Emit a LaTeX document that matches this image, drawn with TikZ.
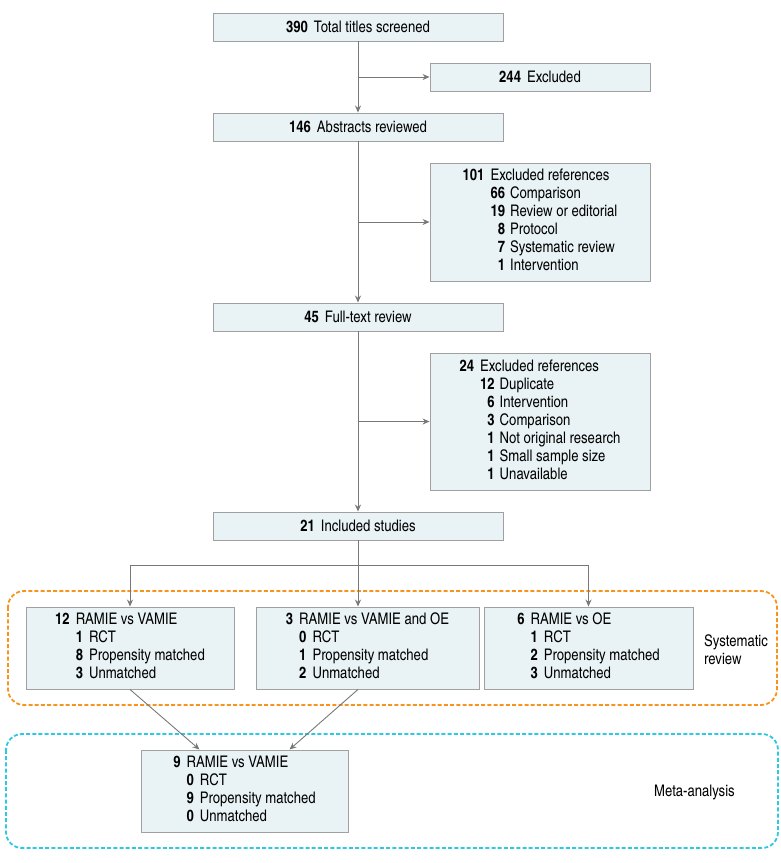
\documentclass[tikz,border=0pt]{standalone}
\usepackage{fontspec}
\setmainfont{texgyreheroscn-regular.otf}[BoldFont=texgyreheroscn-bold.otf]
\usetikzlibrary{arrows.meta}
\definecolor{boxfill}{RGB}{233,243,245}
\definecolor{boxline}{RGB}{160,160,160}
\definecolor{arrline}{RGB}{120,120,120}
\definecolor{sysorange}{RGB}{247,148,30}
\definecolor{metacyan}{RGB}{45,200,225}
\newcommand{\nb}[1]{\textbf{#1}}
\newcommand{\hd}[1]{\multicolumn{2}{@{}l@{}}{#1}}
\tikzset{
  box/.style={draw=boxline, fill=boxfill, line width=0.9pt, inner sep=0pt, align=center,
    font=\fontsize{16}{18}\selectfont},
  arr/.style={draw=arrline, line width=0.9pt, -{Stealth[length=7pt,width=6pt]}},
  plain/.style={draw=arrline, line width=0.9pt},
  frame/.style={line width=1.8pt, dash pattern=on 4pt off 2.2pt, rounded corners=16pt},
  lbl/.style={font=\fontsize{16}{18}\selectfont, align=left, anchor=west, inner sep=0pt}
}
\begin{document}
\begin{tikzpicture}[x=1pt,y=-1pt]
\useasboundingbox (0,0) rectangle (780,863);
% group frames
\draw[frame, draw=sysorange] (8,591) rectangle (777,705);
\draw[frame, draw=metacyan] (6,734) rectangle (778,848);
% boxes
\node[box, minimum width=290, minimum height=28] (b1) at (358,27) {\nb{390}\hspace{6pt}Total titles screened};
\node[box, minimum width=220, minimum height=28] (b244) at (540,77) {\nb{244}\hspace{6pt}Excluded};
\node[box, minimum width=290, minimum height=28] (b146) at (358,127) {\nb{146}\hspace{6pt}Abstracts reviewed};
\node[box, minimum width=220, minimum height=118] (b101) at (540,222) {%
\begin{tabular}{@{}r@{\hspace{6pt}}r@{\hspace{5pt}}l@{}}
\nb{101} & \hd{Excluded references}\\
 & \nb{66} & Comparison\\
 & \nb{19} & Review or editorial\\
 & \nb{8} & Protocol\\
 & \nb{7} & Systematic review\\
 & \nb{1} & Intervention
\end{tabular}};
\node[box, minimum width=290, minimum height=28] (b45) at (358,317) {\nb{45}\hspace{6pt}Full-text review};
\node[box, minimum width=220, minimum height=137] (b24) at (540,421.5) {%
\begin{tabular}{@{}r@{\hspace{6pt}}r@{\hspace{5pt}}l@{}}
\nb{24} & \hd{Excluded references}\\
 & \nb{12} & Duplicate\\
 & \nb{6} & Intervention\\
 & \nb{3} & Comparison\\
 & \nb{1} & Not original research\\
 & \nb{1} & Small sample size\\
 & \nb{1} & Unavailable
\end{tabular}};
\node[box, minimum width=290, minimum height=28] (b21) at (358,526) {\nb{21}\hspace{6pt}Included studies};
\node[box, minimum width=208, minimum height=82] (bA) at (130,648) {%
\begin{tabular}{@{}r@{\hspace{6pt}}r@{\hspace{6pt}}l@{}}
\nb{12} & \hd{RAMIE vs VAMIE}\\
 & \nb{1} & RCT\\
 & \nb{8} & Propensity matched\\
 & \nb{3} & Unmatched
\end{tabular}};
\node[box, minimum width=223, minimum height=82] (bB) at (367.5,648) {%
\begin{tabular}{@{}r@{\hspace{6pt}}r@{\hspace{6pt}}l@{}}
\nb{3} & \hd{RAMIE vs VAMIE and OE}\\
 & \nb{0} & RCT\\
 & \nb{1} & Propensity matched\\
 & \nb{2} & Unmatched
\end{tabular}};
\node[box, minimum width=209, minimum height=82] (bC) at (588.5,648) {%
\begin{tabular}{@{}r@{\hspace{6pt}}r@{\hspace{6pt}}l@{}}
\nb{6} & \hd{RAMIE vs OE}\\
 & \nb{1} & RCT\\
 & \nb{2} & Propensity matched\\
 & \nb{3} & Unmatched
\end{tabular}};
\node[box, minimum width=207, minimum height=82] (bM) at (244.5,791) {%
\begin{tabular}{@{}r@{\hspace{6pt}}r@{\hspace{6pt}}l@{}}
\nb{9} & \hd{RAMIE vs VAMIE}\\
 & \nb{0} & RCT\\
 & \nb{9} & Propensity matched\\
 & \nb{0} & Unmatched
\end{tabular}};
% labels
\node[lbl] (sys) at (704,650) {Systematic\\review};
\node[lbl] (meta) at (654,792) {Meta-analysis};
% connectors
\draw[arr] (b1.south) -- (b146.north);
\draw[arr] (b1.south |- b244.west) -- (b244.west);
\draw[arr] (b146.south) -- (b45.north);
\draw[arr] (b146.south |- b101.west) -- (b101.west);
\draw[arr] (b45.south) -- (b21.north);
\draw[arr] (b45.south |- b24.west) -- (b24.west);
\coordinate (split) at (358,565);
\draw[plain] (b21.south) -- (split);
\draw[plain] (bA.north |- split) -- (bC.north |- split);
\draw[arr] (bA.north |- split) -- (bA.north);
\draw[arr] (split) -- (split |- bB.north);
\draw[arr] (bC.north |- split) -- (bC.north);
\draw[arr] (bA.south) -- ([xshift=-45pt]bM.north);
\draw[arr] (split |- bB.south) -- ([xshift=45pt]bM.north);
\end{tikzpicture}
\end{document}
